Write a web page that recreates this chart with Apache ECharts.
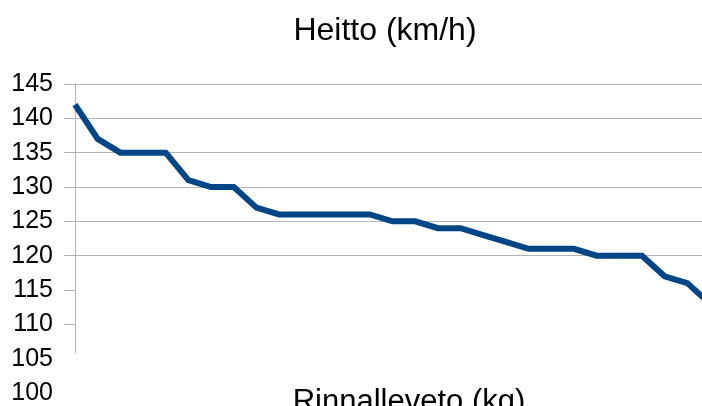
<!DOCTYPE html>
<html>
<head>
<meta charset="utf-8">
<script src="https://cdn.jsdelivr.net/npm/echarts@6/dist/echarts.min.js"></script>
<style>
  html, body { margin: 0; padding: 0; background: #fff; }
  #chart { width: 702px; height: 406px; }
</style>
</head>
<body>
<div id="chart"></div>
<script>
// Athletes ordered by throwing speed
const categories = ['1','2','3','4','5','6','7','8','9','10','11','12','13','14','15',
                    '16','17','18','19','20','21','22','23','24','25','26','27','28','29'];
// Throwing speed, km/h
const speed = [142, 137, 135, 135, 135, 131, 130, 130, 127, 126, 126, 126, 126, 126, 125,
               125, 124, 124, 123, 122, 121, 121, 121, 120, 120, 120, 117, 116, 113];
// Speed axis ticks
const yTicks = [100, 105, 110, 115, 120, 125, 130, 135, 140, 145];
const gridTicks = yTicks.filter(v => v >= 110);

const FONT = '"Liberation Sans", Arial, sans-serif';
const GRID = '#b3b3b3';

// Split lines are drawn only from 110 up; lower ticks keep their labels only
const splitColors = yTicks.map(v => (v >= 110 ? GRID : 'rgba(0,0,0,0)'));

const chart = echarts.init(document.getElementById('chart'), null, { renderer: 'canvas' });
chart.setOption({
  animation: false,
  backgroundColor: '#fff',
  title: {
    text: 'Heitto (km/h)',
    left: 380,
    top: 10,
    textAlign: 'center',
    textStyle: { fontFamily: FONT, fontSize: 32, fontWeight: 'normal', color: '#000' }
  },
  grid: [
    { left: 75, top: 84, right: -8, bottom: 13, containLabel: false, outerBoundsMode: 'none' },
    { left: 75, top: 84, width: 10, bottom: 53, containLabel: false, outerBoundsMode: 'none' }
  ],
  xAxis: [
    {
      type: 'category',
      gridIndex: 0,
      data: categories,
      boundaryGap: false,
      name: 'Rinnalleveto (kg)',
      nameLocation: 'middle',
      nameGap: -6,
      nameTextStyle: { fontFamily: FONT, fontSize: 31, color: '#000', padding: [0, 0, 0, 33] },
      axisLine: { show: false },
      axisTick: { show: false },
      axisLabel: { show: false },
      splitLine: { show: false }
    },
    { type: 'value', gridIndex: 1, show: false, min: 0, max: 1 }
  ],
  yAxis: [
    {
      type: 'value',
      gridIndex: 0,
      min: 100,
      max: 145,
      interval: 5,
      axisLine: { show: false },
      axisTick: {
        show: true,
        customValues: gridTicks,
        length: 11,
        lineStyle: { color: GRID, width: 1 }
      },
      axisLabel: {
        customValues: yTicks,
        margin: 22,
        fontFamily: FONT,
        fontSize: 25,
        color: '#000'
      },
      splitLine: { show: true, lineStyle: { color: splitColors, width: 1 } }
    },
    {
      type: 'value',
      gridIndex: 1,
      min: 0,
      max: 1,
      axisLine: { show: true, lineStyle: { color: GRID, width: 1 } },
      axisTick: { show: false },
      axisLabel: { show: false },
      splitLine: { show: false }
    }
  ],
  series: [
    {
      type: 'line',
      xAxisIndex: 0,
      yAxisIndex: 0,
      data: speed,
      showSymbol: false,
      lineStyle: { color: '#004586', width: 6, join: 'miter' },
      itemStyle: { color: '#004586' }
    }
  ]
});
</script>
</body>
</html>
